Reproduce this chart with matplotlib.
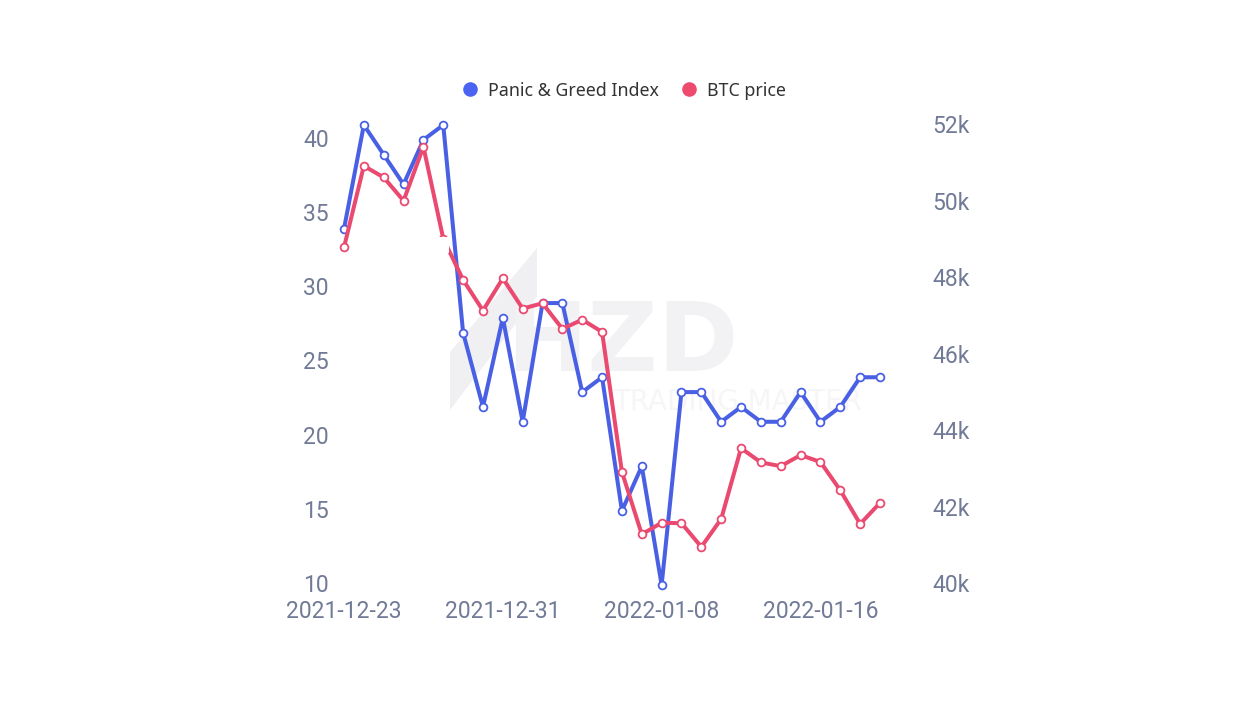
import matplotlib
matplotlib.use("Agg")
import matplotlib.pyplot as plt
from matplotlib.lines import Line2D
from matplotlib.patches import Polygon, Rectangle
from matplotlib.transforms import ScaledTranslation
import numpy as np

# values
dates = ["2021-12-23", "2021-12-31", "2022-01-08", "2022-01-16"]
date_idx = [0, 8, 16, 24]
panic_greed = [34, 41, 39, 37, 40, 41, 27, 22, 28, 21, 29, 29, 23, 24,
               15, 18, 10, 23, 23, 21, 22, 21, 21, 23, 21, 22, 24, 24]
btc_price = [48.80, 50.93, 50.63, 50.02, 51.43, 49.03, 47.95, 47.15, 47.99, 47.20,
             47.34, 46.67, 46.91, 46.59, 42.93, 41.30, 41.60, 41.59, 40.97, 41.70,
             43.55, 43.18, 43.08, 43.37, 43.19, 42.45, 41.57, 42.12]
left_ticks = [10, 15, 20, 25, 30, 35, 40]
right_ticks = [40, 42, 44, 46, 48, 50, 52]

blue = "#4a60e4"
red = "#ea4a70"
tick_color = "#717a96"

W, H = 1254, 704
plt.rcParams["font.family"] = "Roboto"

fig = plt.figure(figsize=(W / 100, H / 100), dpi=100)
# plot area in pixels: x 344..880, y 125..585
ax = fig.add_axes([344 / W, 1 - 585 / H, 536 / W, 460 / H])
ax2 = ax.twinx()
ax.set_zorder(2)
ax2.set_zorder(3)
x = np.arange(len(panic_greed))

# faint watermark behind the lines
fig.text(622 / W, 1 - 345 / H, "HZD", fontsize=70, fontweight="bold", family="DejaVu Sans",
         color="#f2f2f4", ha="center", va="center", zorder=0)
fig.text(738 / W, 1 - 402 / H, "TRADING MASTER", fontsize=20, family="DejaVu Sans",
         color="#f6f6f8", ha="center", va="center", zorder=0)
fig.add_artist(Polygon([[450 / W, 1 - 352 / H], [537 / W, 1 - 248 / H], [537 / W, 1 - 296 / H],
                        [450 / W, 1 - 410 / H]], closed=True, transform=fig.transFigure,
                       facecolor="#f0f0f3", edgecolor="none", zorder=0))

ax.plot(x, panic_greed, color=blue, lw=2.9, marker="o", ms=5.6, mfc="white", mec=blue,
        mew=1.3, clip_on=False, zorder=3, solid_joinstyle="round")
ax2.plot(x, btc_price, color=red, lw=2.9, marker="o", ms=5.6, mfc="white", mec=red,
         mew=1.3, clip_on=False, zorder=3, solid_joinstyle="round")

ax.set_xlim(0, 27)
ax.set_ylim(10, 41)
ax2.set_ylim(39.974, 51.975)

# white patch hiding part of the red line, as in the source screenshot
ax2.add_patch(Rectangle((4.1, 48.66), 1.19, 0.42, facecolor="white", edgecolor="none", zorder=4))

ax.set_xticks(date_idx)
ax.set_xticklabels(dates)
ax.set_yticks(left_ticks)
ax2.set_yticks(right_ticks)
ax2.set_yticklabels([f"{t}k" for t in right_ticks])

ax.tick_params(axis="x", length=0, pad=11, labelsize=16.5, labelcolor=tick_color)
ax.tick_params(axis="y", length=0, pad=11, labelsize=16.5, labelcolor=tick_color)
ax2.tick_params(axis="y", length=0, pad=38, labelsize=16.5, labelcolor=tick_color)

# y labels sit a little above their data value in the reference
for lab in ax.get_yticklabels():
    lab.set_transform(lab.get_transform() + ScaledTranslation(0, 2 / 100, fig.dpi_scale_trans))
for lab in ax2.get_yticklabels():
    lab.set_transform(lab.get_transform() + ScaledTranslation(0, 1 / 100, fig.dpi_scale_trans))

for a in (ax, ax2):
    a.patch.set_visible(False)
    for s in a.spines.values():
        s.set_visible(False)

handles = [
    Line2D([], [], ls="none", marker="o", ms=10.5, mfc="#4a63f0", mec="none", label="Panic & Greed Index"),
    Line2D([], [], ls="none", marker="o", ms=10.5, mfc="#ee4a6e", mec="none", label="BTC price"),
]
fig.legend(handles=handles, ncol=2, loc="center", bbox_to_anchor=(619 / W, 1 - 90.5 / H), frameon=False,
           prop={"family": "Noto Sans", "size": 12.8}, labelcolor="#333333",
           handletextpad=0.05, columnspacing=0.65, borderpad=0)

fig.savefig("out.png", dpi=100, facecolor="white")
